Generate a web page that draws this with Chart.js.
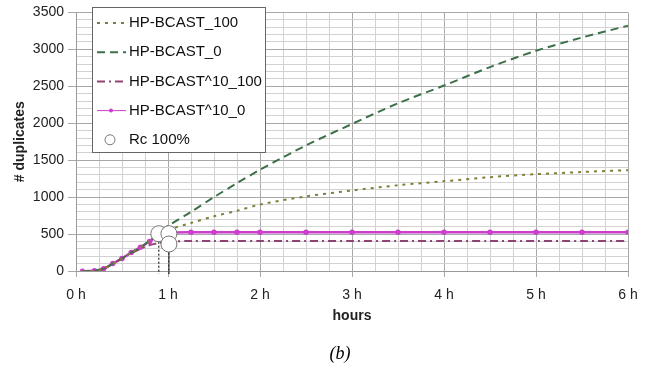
<!DOCTYPE html>
<html>
<head>
<meta charset="utf-8">
<script src="https://cdn.jsdelivr.net/npm/chart.js@4/dist/chart.umd.min.js"></script>
<style>
  html, body { margin: 0; padding: 0; background: #fff; }
  #wrap { width: 653px; height: 371px; }
</style>
</head>
<body>
<div id="wrap"><canvas id="chart"></canvas></div>
<script>
// ---- data (hours / # duplicates) ----
const hours      = [0.07, 0.2, 0.3, 0.4, 0.5, 0.6, 0.7, 0.8, 0.9, 1.0, 1.25, 1.5, 1.75, 2, 2.5, 3, 3.5, 4, 4.5, 5, 5.5, 6];
const bcast100   = [-5, 5, 30, 100, 170, 250, 320, 400, 480, 555, 650, 740, 815, 900, 1010, 1090, 1160, 1215, 1270, 1310, 1340, 1365];
const bcast0     = [-5, 5, 30, 100, 170, 250, 320, 410, 510, 610, 800, 1000, 1190, 1370, 1700, 1990, 2270, 2510, 2760, 2980, 3160, 3320];
const bcast10_100 = [-5, 5, 30, 100, 170, 240, 300, 350, 380, 400, 405, 405, 405, 405, 405, 405, 405, 405, 405, 405, 405, 405];
const bcast10_0  = [-5, 5, 30, 100, 170, 250, 320, 400, 480, 515, 525, 525, 525, 525, 525, 525, 525, 525, 525, 525, 525, 525];
const rcHours    = [0.9, 1.01, 1.01];
const rcValues   = [505, 505, 365];
const hourTicks  = [0, 1, 2, 3, 4, 5, 6];

const FONT = '"Liberation Sans", Arial, sans-serif';
const pts = (xs, ys) => xs.map((x, i) => ({ x: x, y: ys[i] }));

const series = [
  { label: 'HP-BCAST_100',    data: bcast100,    color: '#7f7f3a', dash: [3, 5], width: 2 },
  { label: 'HP-BCAST_0',      data: bcast0,      color: '#3b7048', dash: [8, 5], width: 2 },
  { label: 'HP-BCAST^10_100', data: bcast10_100, color: '#8e4472', dash: [8, 4, 2, 4], width: 2 },
  { label: 'HP-BCAST^10_0',   data: bcast10_0,   color: '#cc3fcc', dash: [], width: 2.5, points: true }
];

const datasets = series.map(s => ({
  label: s.label,
  data: pts(hours, s.data),
  borderColor: s.color,
  backgroundColor: s.color,
  borderDash: s.dash,
  borderWidth: s.width,
  pointRadius: s.points ? 1.5 : 0,
  tension: 0.3,
  fill: false
}));

// dotted drop lines from the Rc markers to the axis
rcHours.forEach((h, i) => {
  datasets.push({
    label: '_drop' + i,
    data: [{ x: h, y: rcValues[i] }, { x: h, y: -40 }],
    borderColor: '#222',
    borderDash: [2, 2],
    borderWidth: 1.2,
    pointRadius: 0,
    clip: false,
    order: -1
  });
});

datasets.push({
  label: 'Rc 100%',
  data: pts(rcHours, rcValues),
  showLine: false,
  pointRadius: 8,
  pointBackgroundColor: '#fff',
  pointBorderColor: '#777',
  pointBorderWidth: 1,
  borderColor: '#777',
  backgroundColor: '#fff',
  order: -2
});

// legend box drawn inside the plot, like the original, plus the "(b)" caption
const boxLegend = {
  id: 'boxLegend',
  afterDraw(chart) {
    const ctx = chart.ctx;
    const x0 = 92, y0 = 7, w = 173, h = 145;
    ctx.save();
    ctx.fillStyle = '#fff';
    ctx.fillRect(x0, y0, w, h);
    ctx.strokeStyle = '#666';
    ctx.lineWidth = 1;
    ctx.strokeRect(x0 + 0.5, y0 + 0.5, w, h);
    ctx.font = '15px ' + FONT;
    ctx.textBaseline = 'middle';
    const rows = series.map(s => s).concat([{ label: 'Rc 100%', circle: true }]);
    rows.forEach((r, i) => {
      const y = y0 + 16 + i * 29.2;
      if (r.circle) {
        ctx.beginPath();
        ctx.arc(110, y, 5, 0, Math.PI * 2);
        ctx.fillStyle = '#fff';
        ctx.fill();
        ctx.strokeStyle = '#777';
        ctx.stroke();
        ctx.fillStyle = '#111';
        ctx.fillText(r.label, 129, y);
      } else {
        ctx.beginPath();
        ctx.setLineDash(r.dash);
        ctx.strokeStyle = r.color;
        ctx.lineWidth = r.points ? 1 : 2;
        ctx.moveTo(97, y);
        ctx.lineTo(126, y);
        ctx.stroke();
        ctx.setLineDash([]);
        if (r.points) {
          ctx.fillStyle = r.color;
          ctx.beginPath();
          ctx.arc(111, y, 2, 0, Math.PI * 2);
          ctx.fill();
        }
        ctx.fillStyle = '#111';
        ctx.fillText(r.label, 129, y);
      }
    });
    ctx.font = 'italic 18px "Liberation Serif", "Times New Roman", serif';
    ctx.textAlign = 'center';
    ctx.fillStyle = '#000';
    ctx.fillText('(b)', 340, 354);
    ctx.restore();
  }
};

const config = {
  type: 'line',
  data: { datasets: datasets },
  options: {
    responsive: true,
    maintainAspectRatio: false,
    animation: false,
    layout: { padding: { top: 9, right: 25, bottom: 42, left: 0 } },
    plugins: {
      legend: { display: false },
      tooltip: { enabled: false }
    },
    scales: {
      x: {
        type: 'linear',
        min: 0,
        max: 6,
        afterFit: s => { s.height = 58; },
        afterBuildTicks: s => {
          const t = [];
          for (let i = 0; i <= 24; i++) t.push({ value: i / 4 });
          s.ticks = t;
        },
        ticks: {
          autoSkip: false,
          maxRotation: 0,
          padding: 10,
          color: '#222',
          font: { family: FONT, size: 14 },
          callback: v => (hourTicks.includes(v) ? v + ' h' : '')
        },
        grid: {
          color: c => (Number.isInteger(c.tick.value) ? '#a8a8a8' : '#d2d2d2'),
          tickColor: c => (Number.isInteger(c.tick.value) ? '#a8a8a8' : 'rgba(0,0,0,0)'),
          tickLength: 6
        },
        border: { color: '#999' },
        title: {
          display: true,
          text: 'hours',
          color: '#222',
          font: { family: FONT, size: 14, weight: 'bold' },
          padding: { top: 2, bottom: 4 }
        }
      },
      y: {
        min: 0,
        max: 3500,
        afterFit: s => { s.width = 76; },
        ticks: {
          stepSize: 100,
          autoSkip: false,
          padding: 4,
          color: '#222',
          font: { family: FONT, size: 14 },
          callback: v => (v % 500 === 0 ? String(v) : '')
        },
        grid: {
          color: c => (c.tick.value % 500 === 0 ? '#a8a8a8' : '#d2d2d2'),
          tickColor: c => (c.tick.value % 500 === 0 ? '#a8a8a8' : 'rgba(0,0,0,0)'),
          tickLength: 8
        },
        border: { color: '#999' },
        title: {
          display: true,
          text: '# duplicates',
          color: '#222',
          font: { family: FONT, size: 14, weight: 'bold' },
          padding: { top: 12, bottom: 4 }
        }
      }
    }
  },
  plugins: [boxLegend]
};

new Chart(document.getElementById('chart'), config);
</script>
</body>
</html>
